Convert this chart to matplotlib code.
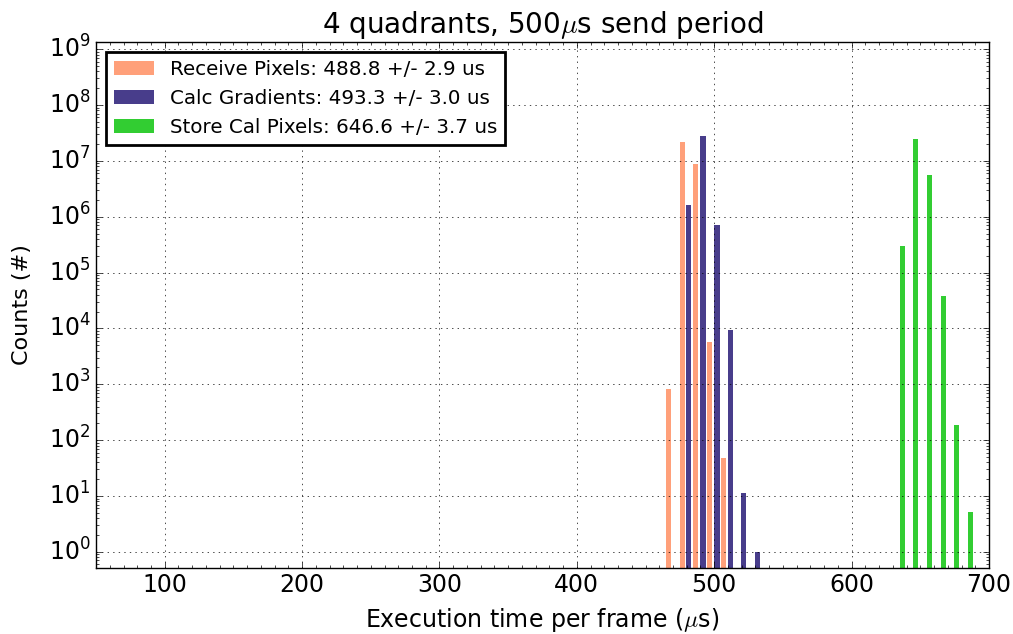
import matplotlib
matplotlib.use("Agg")
import matplotlib.pyplot as plt
from matplotlib.ticker import LogLocator, MultipleLocator

# Bin centres (us) and counts
receive_t = [466.5, 477.0, 486.5, 496.5, 507.0]
receive_n = [830, 2.16e7, 8.7e6, 5750, 47.5]

gradient_t = [481.5, 491.8, 502.0, 511.7, 521.5, 531.5]
gradient_n = [1.63e6, 2.76e7, 7.1e5, 9200, 11.4, 1.0]

store_t = [636.8, 646.5, 656.5, 667.0, 676.6, 686.5]
store_n = [2.97e5, 2.42e7, 5.5e6, 3.8e4, 183, 5.1]

labels = ["Receive Pixels: 488.8 +/- 2.9 us",
          "Calc Gradients: 493.3 +/- 3.0 us",
          "Store Cal Pixels: 646.6 +/- 3.7 us"]

plt.style.use("classic")
plt.rcParams["figure.facecolor"] = "white"

fig = plt.figure(figsize=(10.13, 6.34), dpi=100)
fig.subplots_adjust(left=0.0948, right=0.9763, top=0.9333, bottom=0.1046)
ax = fig.add_subplot(111)

w = 3.8
ax.bar(receive_t, receive_n, width=w, color="#FFA07A", linewidth=0, label=labels[0])
ax.bar(gradient_t, gradient_n, width=w, color="#483D8B", linewidth=0, label=labels[1])
ax.bar(store_t, store_n, width=w, color="#32CD32", linewidth=0, label=labels[2])

ax.set_yscale("log")
ax.set_xlim(50, 700)
ax.set_ylim(0.52, 1.33e9)
ax.yaxis.set_major_locator(LogLocator(base=10, numticks=15))
ax.yaxis.set_minor_locator(LogLocator(base=10, subs=range(2, 10), numticks=15))
ax.xaxis.set_minor_locator(MultipleLocator(10))
ax.tick_params(labelsize=17)
ax.grid(True, which="major")

ax.set_title(r"4 quadrants, 500$\mu$s send period", fontsize=20, y=1.005)
ax.set_xlabel(r"Execution time per frame ($\mu$s)", fontsize=17, labelpad=6)
ax.set_ylabel("Counts (#)", fontsize=16, labelpad=12)

leg = ax.legend(loc="upper left", fontsize=14.3)
leg.get_frame().set_linewidth(2)

fig.savefig("out.png", dpi=100)
